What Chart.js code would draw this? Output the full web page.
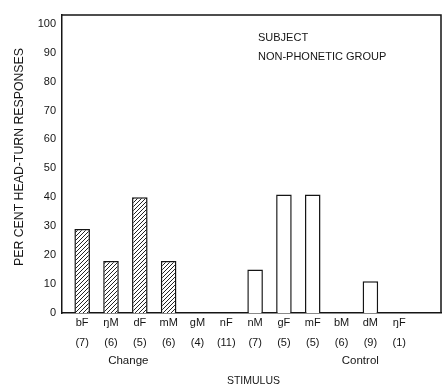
<!DOCTYPE html>
<html>
<head>
<meta charset="utf-8">
<script src="https://cdn.jsdelivr.net/npm/chart.js@4.4.0/dist/chart.umd.min.js"></script>
<style>
  html,body{margin:0;padding:0;background:#fff;}
  #wrap{width:444px;height:391px;}
</style>
</head>
<body>
<div id="wrap"><canvas id="c" width="444" height="391"></canvas></div>
<script>
// ---- data ----
const stimuli = ["bF","ŋM","dF","mM","gM","nF","nM","gF","mF","bM","dM","ŋF"];
const counts  = ["(7)","(6)","(5)","(6)","(4)","(11)","(7)","(5)","(5)","(6)","(9)","(1)"];
const percent = [29, 18, 40, 18, 0, 0, 15, 41, 41, 0, 11, 0];
const group   = ["Change","Change","Change","Change","Change","Change","Control","Control","Control","Control","Control","Control"];
const groupLabels = [{text:"Change", at:1.6},{text:"Control", at:9.65}];
const yTicks = [0,10,20,30,40,50,60,70,80,90,100];
const yTitle = "PER CENT HEAD-TURN RESPONSES";
const xTitle = "STIMULUS";
const note = ["SUBJECT","NON-PHONETIC GROUP"];

const FONT = "'Liberation Sans', Arial, Helvetica, sans-serif";
const INK = "#151515";

// hatch pattern
function hatch(){
  const s = 4;
  const p = document.createElement('canvas');
  p.width = s; p.height = s;
  const g = p.getContext('2d');
  g.fillStyle = '#fff'; g.fillRect(0,0,s,s);
  g.strokeStyle = '#222'; g.lineWidth = 1;
  g.beginPath();
  g.moveTo(0,s); g.lineTo(s,0);
  g.moveTo(-1,1); g.lineTo(1,-1);
  g.moveTo(s-1,s+1); g.lineTo(s+1,s-1);
  g.stroke();
  return document.getElementById('c').getContext('2d').createPattern(p,'repeat');
}
const pat = hatch();

const points = stimuli.map((s,i)=>({x:i, y:percent[i]}));
const fills = group.map(g => g === "Change" ? pat : "#ffffff");

const textPlugin = {
  id:'texts',
  afterDraw(chart){
    const {ctx, chartArea:a, scales:{x,y}} = chart;
    ctx.save();
    // frame top and right
    ctx.strokeStyle = INK; ctx.lineWidth = 1.5;
    ctx.beginPath();
    ctx.moveTo(a.left, a.top); ctx.lineTo(a.right, a.top); ctx.lineTo(a.right, a.bottom);
    ctx.stroke();
    ctx.fillStyle = INK;
    // group labels
    ctx.font = "11.5px " + FONT;
    ctx.textAlign = 'center'; ctx.textBaseline = 'middle';
    groupLabels.forEach(g => ctx.fillText(g.text, x.getPixelForValue(g.at), a.bottom + 48));
    // x title
    ctx.font = "10.5px " + FONT;
    ctx.fillText(xTitle, (a.left + a.right)/2 + 2, a.bottom + 68);
    // y title
    ctx.save();
    ctx.translate(20, a.top + 142);
    ctx.rotate(-Math.PI/2);
    ctx.font = "12.3px " + FONT;
    ctx.fillText(yTitle, 0, 0);
    ctx.restore();
    // note
    ctx.textAlign = 'left';
    ctx.font = "11px " + FONT;
    ctx.fillText(note[0], x.getPixelForValue(6.1), y.getPixelForValue(95));
    ctx.fillText(note[1], x.getPixelForValue(6.1), y.getPixelForValue(88.6));
    ctx.restore();
  }
};

new Chart(document.getElementById('c'), {
  type:'bar',
  data:{
    datasets:[{
      data: points,
      backgroundColor: fills,
      borderColor: INK,
      borderWidth: 1.5,
      borderSkipped: 'bottom',
      barPercentage: 0.54,
      categoryPercentage: 1
    }]
  },
  options:{
    responsive:false,
    animation:false,
    devicePixelRatio:1,
    layout:{padding:{top:15, right:3, left:0, bottom:0}},
    plugins:{legend:{display:false}, tooltip:{enabled:false}},
    scales:{
      x:{
        type:'linear',
        offset:false,
        min:-0.7, max:12.45,
        afterBuildTicks(s){ s.ticks = stimuli.map((_,i)=>({value:i})); },
        afterFit(s){ s.height = 78; },
        grid:{display:false, drawTicks:false, offset:false},
        border:{display:true, color:INK, width:1.5},
        ticks:{
          autoSkip:false, maxRotation:0, padding:0,
          color:INK,
          font:{family:FONT, size:11, lineHeight:1.8},
          callback:(v)=>[stimuli[v], counts[v]]
        }
      },
      y:{
        min:0, max:103,
        afterBuildTicks(s){ s.ticks = yTicks.map(v=>({value:v})); },
        afterFit(s){ s.width = 62; },
        grid:{display:false, drawTicks:true, tickLength:5, tickColor:INK, tickWidth:1.5, drawOnChartArea:false},
        border:{display:true, color:INK, width:1.5},
        ticks:{padding:1, color:INK, font:{family:FONT, size:11}}
      }
    }
  },
  plugins:[textPlugin]
});
</script>
</body>
</html>
